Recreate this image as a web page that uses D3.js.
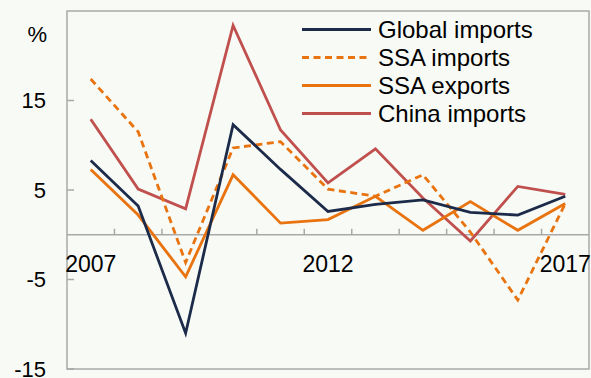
<!DOCTYPE html>
<html>
<head>
<meta charset="utf-8">
<script src="https://cdn.jsdelivr.net/npm/d3@7"></script>
<style>
body { margin: 0; background: #f8faf5; }
svg { display: block; font-family: "Liberation Sans", Arial, sans-serif; }
</style>
</head>
<body>
<svg id="chart"></svg>
<script>
var width = 591;
var height = 378;

var years = [2007,2008,2009,2010,2011,2012,2013,2014,2015,2016,2017];
var yearLabels = [2007,2012,2017];
var yTicks = [-15,-5,5,15];

var globalImports = [8.3,3.2,-11.0,12.3,7.3,2.6,3.4,3.9,2.5,2.2,4.3];
var ssaImports    = [17.4,11.5,-3.1,9.7,10.4,5.1,4.3,6.7,0.3,-7.3,3.5];
var ssaExports    = [7.3,2.2,-4.7,6.7,1.3,1.7,4.3,0.5,3.7,0.5,3.5];
var chinaImports  = [12.9,5.1,2.9,23.4,11.7,5.8,9.6,4.1,-0.7,5.4,4.5];

var seriesNames = ["Global imports","SSA imports","SSA exports","China imports"];
var seriesValues = [globalImports, ssaImports, ssaExports, chinaImports];
var seriesColors = ["#1c2b4a","#e8730f","#e8730f","#c0504d"];
var seriesDash = [null,"7,4.5",null,null];

var plotLeft = 67, plotRight = 589, plotTop = 11, plotBottom = 369;

var svg = d3.select("#chart")
	.attr("width", width)
	.attr("height", height);

svg.append("rect")
	.attr("width", width)
	.attr("height", height)
	.attr("fill", "#f8faf5");

var x = d3.scaleBand()
	.domain(years)
	.range([plotLeft, plotRight]);

var y = d3.scaleLinear()
	.domain([-15, 25])
	.range([plotBottom, plotTop]);

// frame
svg.append("rect")
	.attr("x", plotLeft)
	.attr("y", plotTop)
	.attr("width", plotRight - plotLeft)
	.attr("height", plotBottom - plotTop)
	.attr("fill", "none")
	.attr("stroke", "#a9a9a9")
	.attr("stroke-width", 1.5);

// y ticks
svg.selectAll("line.ytick").data(yTicks)
	.enter().append("line")
	.attr("class", "ytick")
	.attr("x1", plotLeft).attr("x2", plotLeft + 7)
	.attr("y1", function(d) { return y(d); })
	.attr("y2", function(d) { return y(d); })
	.attr("stroke", "#a9a9a9")
	.attr("stroke-width", 1.5);

svg.selectAll("text.ylab").data(yTicks)
	.enter().append("text")
	.attr("class", "ylab")
	.attr("x", 46)
	.attr("y", function(d) { return y(d); })
	.attr("dy", "0.36em")
	.attr("text-anchor", "end")
	.attr("font-size", 22)
	.attr("fill", "#000")
	.text(function(d) { return d; });

svg.append("text")
	.attr("x", 47)
	.attr("y", 42)
	.attr("text-anchor", "end")
	.attr("font-size", 22)
	.text("%");

// x axis at zero
svg.append("line")
	.attr("x1", plotLeft).attr("x2", plotRight)
	.attr("y1", y(0)).attr("y2", y(0))
	.attr("stroke", "#a9a9a9")
	.attr("stroke-width", 1.5);

svg.selectAll("line.xtick").data(years.slice(1))
	.enter().append("line")
	.attr("class", "xtick")
	.attr("x1", function(d) { return x(d); })
	.attr("x2", function(d) { return x(d); })
	.attr("y1", y(0)).attr("y2", y(0) - 6)
	.attr("stroke", "#a9a9a9")
	.attr("stroke-width", 1.5);

svg.selectAll("text.xlab").data(yearLabels)
	.enter().append("text")
	.attr("class", "xlab")
	.attr("x", function(d) { return x(d) + x.bandwidth() / 2; })
	.attr("y", y(0) + 37)
	.attr("text-anchor", "middle")
	.attr("font-size", 23)
	.text(function(d) { return d; });

// series
var line = d3.line()
	.x(function(d, i) { return x(years[i]) + x.bandwidth() / 2; })
	.y(function(d) { return y(d); });

var drawOrder = [3, 2, 1, 0];
drawOrder.forEach(function(k) {
	svg.append("path")
		.datum(seriesValues[k])
		.attr("d", line)
		.attr("fill", "none")
		.attr("stroke", seriesColors[k])
		.attr("stroke-width", 2.8)
		.attr("stroke-linejoin", "miter")
		.attr("stroke-dasharray", seriesDash[k]);
});

// legend
var legend = svg.selectAll("g.legend").data(seriesNames)
	.enter().append("g")
	.attr("class", "legend")
	.attr("transform", function(d, i) { return "translate(302," + (29.5 + i * 28) + ")"; });

legend.append("line")
	.attr("x1", 0).attr("x2", 69)
	.attr("stroke", function(d, i) { return seriesColors[i]; })
	.attr("stroke-width", 2.8)
	.attr("stroke-dasharray", function(d, i) { return seriesDash[i]; });

legend.append("text")
	.attr("x", 76)
	.attr("y", 8)
	.attr("font-size", 24)
	.text(function(d) { return d; });
</script>
</body>
</html>
